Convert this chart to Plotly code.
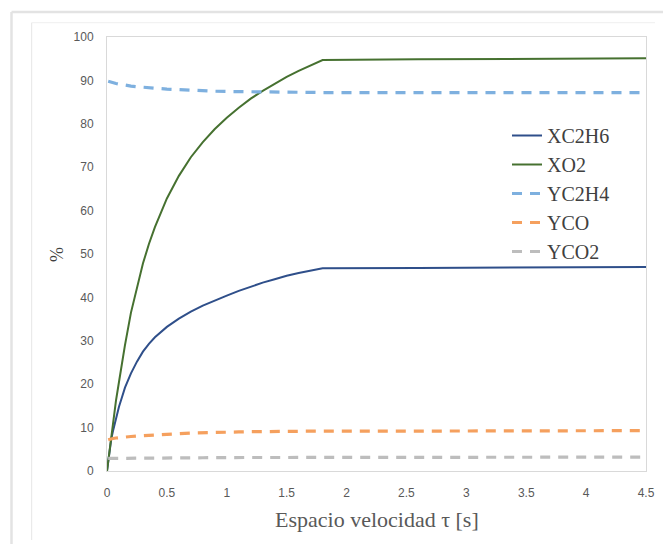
import plotly.graph_objects as go

tau = [0, 0.01, 0.02, 0.035, 0.05, 0.075, 0.1, 0.125, 0.15, 0.2, 0.25, 0.3, 0.35, 0.4, 0.5,
       0.6, 0.7, 0.8, 0.9, 1.0, 1.1, 1.2, 1.3, 1.4, 1.5, 1.6, 1.7, 1.8, 2.6, 3.5, 4.5]
XC2H6 = [0, 2.5, 4.7, 7.3, 9.2, 12.3, 14.8, 17.0, 19.2, 22.5, 25.2, 27.5, 29.3, 30.8, 33.2,
         35.1, 36.7, 38.1, 39.3, 40.4, 41.5, 42.5, 43.4, 44.2, 45.0, 45.6, 46.2, 46.7, 46.8, 46.9, 47.0]
XO2 = [0, 2.3, 4.6, 8.0, 11.2, 16.2, 20.5, 25.0, 29.0, 36.5, 42.5, 47.8, 52.3, 56.2, 62.8,
       68.0, 72.3, 75.8, 78.8, 81.4, 83.7, 85.8, 87.6, 89.3, 90.8, 92.2, 93.5, 94.7, 94.85, 95.0, 95.1]
YC2H4 = [None, 89.8, 89.7, 89.6, 89.45, 89.3, 89.15, 89.0, 88.9, 88.7, 88.55, 88.4, 88.3, 88.2, 88.0,
         87.85, 87.7, 87.6, 87.5, 87.45, 87.4, 87.35, 87.3, 87.3, 87.25, 87.25, 87.2, 87.2, 87.2, 87.2, 87.2]
YCO = [None, 7.2, 7.3, 7.4, 7.5, 7.6, 7.7, 7.8, 7.85, 7.95, 8.05, 8.15, 8.25, 8.35, 8.5,
       8.6, 8.75, 8.85, 8.9, 8.95, 9.0, 9.05, 9.1, 9.1, 9.15, 9.15, 9.2, 9.2, 9.2, 9.25, 9.3]
YCO2 = [None, 2.9, 2.9, 2.9, 2.9, 2.95, 2.95, 2.95, 2.95, 3.0, 3.0, 3.0, 3.0, 3.0, 3.05,
        3.05, 3.05, 3.05, 3.1, 3.1, 3.1, 3.1, 3.1, 3.1, 3.1, 3.1, 3.15, 3.15, 3.15, 3.2, 3.2]

x_ticks = [0, 0.5, 1, 1.5, 2, 2.5, 3, 3.5, 4, 4.5]
x_tick_labels = ["0", "0.5", "1", "1.5", "2", "2.5", "3", "3.5", "4", "4.5"]
y_ticks = [0, 10, 20, 30, 40, 50, 60, 70, 80, 90, 100]

series = [
    ("XC2H6", XC2H6, "#2F4F8A", "solid", 2),
    ("XO2", XO2, "#467130", "solid", 2),
    ("YC2H4", YC2H4, "#7EB0DF", "10px,8px", 3.2),
    ("YCO", YCO, "#F5A05E", "10px,8px", 3.2),
    ("YCO2", YCO2, "#BDBDBD", "10px,8px", 3.2),
]

fig = go.Figure()
for name, vals, color, dash, w in series:
    fig.add_trace(go.Scatter(x=tau, y=vals, mode="lines", name=name,
                             line=dict(color=color, width=w, dash=dash),
                             connectgaps=False))

OFF = 8  # page body margin
W, H = 671 - OFF, 544 - OFF
L, R, T, B = 107, 646, 37, 471  # plot area in page pixels

def px(x):
    return (x - L) / (R - L)

def py(y):
    return (B - y) / (B - T)

shapes = [
    dict(type="line", xref="paper", yref="paper", x0=px(11.5), x1=px(11.5), y0=py(560), y1=py(12),
         line=dict(color="#E3E3E3", width=2.5)),
    dict(type="line", xref="paper", yref="paper", x0=px(11.5), x1=px(690), y0=py(12), y1=py(12),
         line=dict(color="#E3E3E3", width=2.5)),
    dict(type="line", xref="paper", yref="paper", x0=px(31.7), x1=px(31.7), y0=py(540), y1=py(22.7),
         line=dict(color="#E6E6E6", width=1)),
    dict(type="line", xref="paper", yref="paper", x0=px(31.7), x1=px(655), y0=py(22.7), y1=py(22.7),
         line=dict(color="#EFEFEF", width=1)),
]

fig.update_layout(
    width=W, height=H,
    margin=dict(l=L - OFF, r=W - (R - OFF), t=T - OFF, b=H - (B - OFF)),
    paper_bgcolor="white", plot_bgcolor="white",
    showlegend=True,
    legend=dict(x=px(507), y=py(116), xanchor="left", yanchor="top",
                bgcolor="rgba(0,0,0,0)", font=dict(family="Liberation Serif", size=20, color="#404040"),
                itemwidth=30, tracegroupgap=0),
    shapes=shapes,
    annotations=[
        dict(text="Espacio velocidad τ [s]", xref="paper", yref="paper", x=0.5, y=py(519),
             showarrow=False, font=dict(family="Liberation Serif", size=22, color="#595959"),
             xanchor="center", yanchor="middle"),
        dict(text="%", xref="paper", yref="paper", x=px(57), y=py(255), textangle=-90,
             showarrow=False, font=dict(family="Liberation Serif", size=18, color="#404040"),
             xanchor="center", yanchor="middle"),
    ],
)
fig.update_xaxes(range=[0, 4.5], tickvals=x_ticks, ticktext=x_tick_labels, showgrid=False,
                 zeroline=False, showline=True, linecolor="#D9D9D9", linewidth=1, mirror=True,
                 ticks="", ticklabelstandoff=11,
                 tickfont=dict(family="Liberation Sans", size=12, color="#595959"))
fig.update_yaxes(range=[0, 100], tickvals=y_ticks, showgrid=False, zeroline=False,
                 showline=True, linecolor="#D9D9D9", linewidth=1, mirror=True,
                 ticks="", ticklabelstandoff=10,
                 tickfont=dict(family="Liberation Sans", size=12, color="#595959"))

fig.write_html("out.html")
